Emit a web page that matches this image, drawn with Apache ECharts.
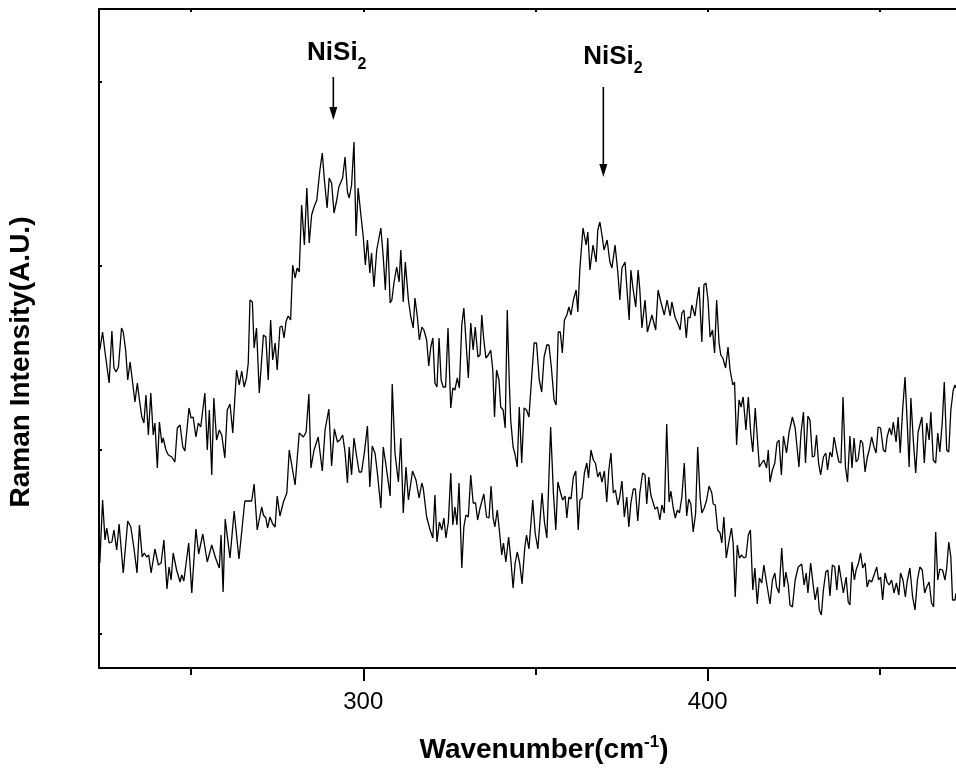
<!DOCTYPE html>
<html>
<head>
<meta charset="utf-8">
<script src="https://cdn.jsdelivr.net/npm/echarts@6/dist/echarts.min.js"></script>
<style>
  html, body { margin: 0; padding: 0; background: #fff; }
  #chart { width: 956px; height: 769px; }
</style>
</head>
<body>
<div id="chart"></div>
<script>
// Raman spectra: [wavenumber (cm^-1), intensity (a.u.)]
const upperSpectrum = [
  [223.5,318],[224.3,336],[225.0,316],[225.5,315],[226.2,285],[227.0,337],[227.6,300],[228.2,296],[228.9,301],[229.8,340],
  [230.3,336],[231.0,318],[231.6,288],[232.3,306],[233.0,286],[233.7,266],[234.4,285],[235.0,268],[235.7,251],[236.3,245],
  [236.9,273],[237.6,233],[238.3,275],[239.0,233],[239.5,245],[240.2,200],[240.8,246],[241.5,225],[241.9,230],[242.7,218],
  [243.4,213],[244.4,211],[245.3,206],[246.0,240],[246.8,243],[247.6,221],[248.2,217],[249.4,260],[250.0,250],[250.6,251],
  [251.4,231],[252.1,245],[252.8,241],[254.0,275],[254.7,218],[255.3,258],[256.0,193],[256.6,270],[257.4,228],[258.2,238],
  [258.9,233],[259.8,210],[260.5,258],[261.3,264],[262.1,235],[263.2,298],[264.0,283],[264.7,297],[265.4,281],[266.1,290],
  [266.6,305],[267.1,368],[267.8,366],[268.3,320],[269.0,340],[269.8,275],[271.0,333],[271.7,331],[272.4,288],[273.1,348],
  [273.7,308],[274.4,325],[275.0,298],[275.8,341],[276.4,342],[277.0,330],[277.6,347],[278.2,352],[278.9,348],[279.5,403],
  [280.2,390],[280.8,400],[281.4,396],[282.1,463],[282.9,423],[283.6,480],[284.3,425],[285.0,453],[285.7,461],[286.5,468],
  [287.4,498],[288.1,515],[288.7,488],[289.5,460],[290.1,490],[290.8,485],[291.5,455],[292.3,468],[292.9,481],[294.0,490],
  [294.7,511],[295.4,476],[295.9,470],[296.6,483],[297.3,526],[297.9,432],[298.5,480],[299.3,453],[300.0,431],[300.6,403],
  [301.2,428],[301.9,395],[302.4,415],[303.1,381],[303.9,418],[305.1,440],[305.8,411],[306.4,378],[307.1,430],[307.8,365],
  [308.3,368],[308.9,385],[309.7,401],[310.4,386],[310.9,418],[311.6,366],[312.2,406],[313.1,368],[313.8,351],[314.5,340],
  [315.0,370],[315.7,351],[316.3,328],[317.0,341],[317.6,338],[318.4,328],[319.0,302],[319.6,321],[320.2,330],[320.8,285],
  [321.4,281],[322.0,330],[322.6,288],[323.2,281],[323.9,281],[324.6,340],[325.4,260],[326.0,280],[326.6,278],[327.3,290],
  [327.9,280],[328.6,343],[329.2,360],[329.8,328],[330.5,290],[331.2,345],[331.9,318],[332.5,341],[333.3,311],[333.9,313],
  [334.4,353],[335.0,328],[335.6,310],[336.3,313],[337.0,318],[337.6,298],[338.1,251],[338.7,298],[339.4,288],[339.9,261],
  [340.6,258],[341.2,240],[341.8,358],[342.4,285],[342.8,248],[343.5,221],[344.1,213],[344.7,201],[345.3,261],[346.0,205],
  [346.7,260],[347.4,258],[348.1,251],[349.0,296],[349.6,325],[350.3,325],[351.1,288],[351.8,276],[352.5,311],[353.3,323],
  [353.9,323],[354.6,301],[355.4,268],[356.0,263],[356.6,336],[357.2,336],[357.8,315],[358.4,348],[359.1,353],[359.7,361],
  [360.3,353],[361.0,368],[361.8,378],[362.3,356],[362.9,400],[363.8,440],[364.7,423],[365.2,436],[365.8,398],[366.7,423],
  [367.6,406],[368.1,438],[368.7,446],[369.3,433],[369.9,418],[370.8,428],[371.6,406],[372.2,400],[373.1,423],[373.9,396],
  [374.5,368],[375.1,400],[376.0,406],[377.2,348],[377.7,398],[378.3,380],[379.1,361],[379.8,398],[380.3,378],[380.9,340],
  [381.8,368],[382.5,336],[383.0,335],[383.8,353],[384.9,338],[385.6,378],[386.4,366],[387.4,353],[388.2,368],[389.1,352],
  [389.6,366],[390.5,351],[391.5,343],[392.0,338],[392.5,355],[393.1,358],[393.8,330],[394.3,351],[394.9,350],[395.4,363],
  [396.3,352],[396.9,368],[397.5,381],[398.3,326],[398.9,383],[399.5,385],[400.1,368],[400.7,331],[401.4,338],[402.0,315],
  [402.6,368],[403.3,325],[403.8,313],[404.4,310],[405.2,300],[405.9,321],[406.5,298],[407.3,283],[407.8,286],[408.4,223],
  [409.1,268],[409.7,261],[410.3,271],[411.1,238],[411.8,271],[412.5,235],[413.1,216],[413.8,260],[414.4,231],[415.0,201],
  [415.7,205],[416.3,208],[417.1,200],[417.6,218],[418.1,186],[418.8,198],[419.5,205],[420.1,225],[420.7,228],[421.4,193],
  [422.0,232],[422.9,215],[423.6,235],[424.6,251],[425.4,240],[425.9,240],[426.5,201],[427.1,235],[427.8,256],[428.4,205],
  [429.1,252],[429.7,248],[430.4,211],[431.0,212],[431.6,233],[432.2,205],[432.8,193],[433.6,211],[434.3,215],[434.8,198],
  [435.5,216],[436.1,211],[436.7,231],[437.5,216],[438.1,206],[438.7,205],[439.3,271],[440.0,201],[440.6,186],[441.3,232],
  [441.9,200],[442.5,230],[443.1,206],[443.7,209],[444.4,228],[445.0,225],[445.7,196],[446.3,210],[446.9,218],[447.6,231],
  [448.3,221],[448.9,215],[449.5,241],[450.2,240],[451.0,218],[451.6,216],[452.1,231],[452.8,240],[453.4,233],[453.9,246],
  [454.7,226],[455.3,251],[455.9,215],[456.6,258],[457.3,291],[457.9,248],[458.5,201],[459.0,270],[459.7,228],[460.4,195],
  [461.1,236],[461.6,235],[462.2,251],[462.9,205],[463.6,245],[464.3,228],[464.8,256],[465.5,208],[466.2,205],[466.8,235],
  [467.4,216],[468.1,245],[468.7,286],[469.4,218],[470.0,216],[470.6,258],[471.3,278],[471.8,283],[472.1,280]
];

const lowerSpectrum = [
  [223.5,105],[224.3,168],[225.0,128],[225.5,140],[226.2,125],[227.0,126],[227.6,138],[228.4,118],[229.1,144],[230.3,95],
  [231.6,147],[232.5,141],[233.4,120],[234.3,95],[235.0,143],[235.8,111],[236.4,115],[237.1,111],[237.7,113],[238.4,95],
  [239.5,119],[240.5,103],[241.3,105],[242.1,128],[243.0,79],[243.6,101],[244.2,88],[244.8,115],[245.8,98],[246.8,86],
  [247.3,93],[247.9,87],[249.3,125],[250.2,75],[251.4,139],[252.2,114],[252.6,114],[253.4,134],[254.7,106],[256.0,123],
  [257.1,110],[258.2,100],[258.7,133],[259.3,76],[259.9,149],[261.3,110],[262.5,157],[263.9,109],[265.6,167],[267.6,167],
  [268.3,184],[269.2,138],[270.5,161],[271.0,153],[271.7,150],[272.2,140],[272.9,151],[273.7,144],[274.4,141],[275.0,172],
  [275.8,152],[276.8,166],[277.8,175],[278.5,218],[279.0,217],[280.2,183],[281.4,235],[282.6,231],[283.4,236],[284.2,274],
  [284.8,200],[285.7,218],[286.9,231],[287.4,230],[288.1,197],[288.9,238],[289.4,237],[290.0,259],[290.8,202],[291.6,239],
  [292.5,226],[293.2,228],[294.0,233],[294.7,216],[295.4,185],[295.9,221],[296.6,193],[297.3,230],[298.1,211],[298.8,196],
  [299.5,196],[300.3,215],[301.2,242],[301.9,181],[302.6,222],[303.4,215],[304.1,195],[305.1,160],[305.8,221],[306.5,205],
  [307.0,205],[307.8,172],[308.4,284],[309.2,215],[310.2,186],[310.9,230],[311.6,155],[312.4,201],[313.1,168],[314.3,197],
  [315.3,188],[316.2,170],[317.0,185],[317.4,180],[318.4,151],[319.4,138],[320.2,130],[320.8,173],[321.4,126],[322.1,146],
  [322.8,138],[323.4,150],[324.0,130],[324.7,146],[325.4,195],[326.0,143],[326.6,161],[327.2,143],[327.8,185],[328.6,100],
  [329.2,141],[329.8,153],[330.5,151],[331.2,193],[331.9,165],[332.6,165],[333.2,148],[333.9,160],[335.0,174],[335.8,151],
  [336.5,150],[337.1,182],[337.7,150],[338.2,141],[338.9,158],[339.5,138],[340.2,113],[340.7,125],[341.4,106],[342.2,131],
  [342.8,110],[343.5,80],[344.1,105],[344.7,116],[345.4,105],[346.1,84],[346.9,121],[347.4,133],[348.1,119],[349.2,168],
  [349.9,135],[350.7,119],[351.9,175],[352.6,146],[353.3,130],[354.4,241],[355.2,175],[355.9,138],[356.5,186],[357.3,175],
  [357.9,168],[358.6,172],[359.1,150],[359.7,171],[360.3,169],[361.0,191],[361.7,197],[362.4,138],[362.9,168],[363.5,170],
  [364.2,195],[364.9,205],[365.4,190],[366.1,218],[366.8,208],[367.4,205],[368.1,191],[368.7,196],[369.3,186],[370.0,197],
  [370.7,166],[371.3,198],[371.9,215],[372.6,175],[373.2,178],[373.9,163],[374.4,170],[375.1,187],[375.8,151],[376.5,171],
  [377.1,141],[377.7,165],[378.4,179],[379.0,179],[379.7,147],[380.3,175],[381.1,195],[381.8,193],[382.3,164],[382.9,191],
  [383.5,173],[384.0,172],[384.7,159],[385.4,161],[386.1,148],[386.7,163],[387.4,155],[388.1,244],[388.8,166],[389.3,177],
  [390.0,160],[390.6,150],[391.2,158],[391.8,155],[392.5,171],[393.2,205],[393.9,152],[394.5,169],[395.1,164],[395.8,136],
  [396.5,155],[397.1,221],[397.8,171],[398.3,155],[399.0,160],[399.7,168],[400.4,182],[401.2,175],[401.6,164],[402.2,163],
  [402.9,138],[403.6,135],[404.1,125],[404.7,151],[405.4,110],[406.1,125],[406.9,140],[407.4,125],[408.0,71],[408.6,123],
  [409.2,110],[409.9,113],[410.5,110],[411.1,111],[411.8,133],[412.4,138],[413.1,78],[413.7,100],[414.4,64],[415.0,90],
  [415.7,85],[416.3,103],[417.1,85],[418.1,64],[418.8,88],[419.5,95],[420.0,81],[420.7,75],[421.5,120],[422.2,81],
  [422.7,96],[423.4,83],[423.9,63],[424.6,61],[425.4,88],[426.3,101],[427.3,104],[428.0,83],[428.6,95],[429.1,75],
  [429.9,105],[430.7,81],[431.2,68],[431.9,81],[432.4,58],[433.0,53],[433.6,78],[434.3,96],[434.9,98],[435.5,72],
  [436.2,103],[436.9,101],[437.5,78],[438.1,103],[438.8,88],[439.4,75],[440.2,91],[440.8,66],[441.3,63],[441.9,106],
  [442.6,88],[443.1,98],[443.8,105],[444.4,115],[445.0,100],[445.7,105],[446.3,81],[446.9,88],[447.6,86],[448.3,93],
  [449.1,101],[449.6,88],[450.2,91],[450.8,68],[451.5,95],[452.1,86],[452.7,83],[453.4,88],[454.1,75],[454.8,85],
  [455.5,73],[456.0,95],[456.7,88],[457.4,71],[457.9,86],[458.7,100],[459.5,71],[460.2,58],[460.9,88],[461.6,101],
  [462.3,98],[463.0,75],[463.6,81],[464.3,86],[465.0,65],[465.6,61],[466.2,136],[466.8,88],[467.4,99],[468.2,98],
  [468.9,88],[469.4,100],[470.0,126],[470.6,111],[471.1,68],[471.8,68],[472.1,75]
];

// Axis ticks and labels
const majorWaveTicks = [300, 400];
const minorWaveTicks = [250, 350, 450];
const intensityTicks = [34, 218, 402, 586];

// Assigned NiSi2 phonon peaks (cm^-1)
const peakWavenumbers = [291.3, 369.7];
const peakName = 'NiSi';
const peakSub = '2';

const FONT = '"Liberation Sans", Arial, Helvetica, sans-serif';
const WAVE_MIN = 223.26, WAVE_MAX = 472.1;
const INT_MIN = 0, INT_MAX = 659;
const black = '#000';

// Arrow and label placement for each annotated peak (in intensity units)
const peakLayout = [
  { arrowTop: 591, arrowTip: 548, labelShift: 1.0, labelAt: 615 },
  { arrowTop: 581, arrowTip: 491, labelShift: 2.8, labelAt: 611 }
];

const chart = echarts.init(document.getElementById('chart'), null, { renderer: 'canvas', width: 956, height: 769 });

const labelRich = {
  a: { fontFamily: FONT, fontWeight: 'bold', fontSize: 26, fill: black, color: black, lineHeight: 40 },
  b: { fontFamily: FONT, fontWeight: 'bold', fontSize: 16, fill: black, color: black, lineHeight: 16, verticalAlign: 'bottom' }
};

function renderPeakMark(params, api) {
  const w = api.value(0);
  const lay = peakLayout[api.value(1)];
  const top = api.coord([w, lay.arrowTop]);
  const tip = api.coord([w, lay.arrowTip]);
  const txt = api.coord([w + lay.labelShift, lay.labelAt]);
  const headLen = 13, headHalf = 4;
  return {
    type: 'group',
    children: [
      { type: 'line', shape: { x1: top[0], y1: top[1], x2: tip[0], y2: tip[1] - headLen + 1 },
        style: { stroke: black, lineWidth: 1.6 } },
      { type: 'polygon', shape: { points: [[tip[0] - headHalf, tip[1] - headLen], [tip[0] + headHalf, tip[1] - headLen], [tip[0], tip[1]]] },
        style: { fill: black } },
      { type: 'text', x: txt[0], y: txt[1],
        style: { text: '{a|' + peakName + '}{b|' + peakSub + '}', rich: labelRich, align: 'center', verticalAlign: 'middle' } }
    ]
  };
}

const option = {
  animation: false,
  backgroundColor: '#fff',
  grid: { left: 99, top: 9, right: 0, bottom: 101, containLabel: false },
  xAxis: [
    {
      type: 'value', position: 'bottom', min: WAVE_MIN, max: WAVE_MAX,
      axisLine: { show: true, onZero: false, lineStyle: { color: black, width: 2 } },
      axisTick: { show: true, customValues: majorWaveTicks, length: 13, lineStyle: { color: black, width: 2 } },
      axisLabel: { show: true, customValues: majorWaveTicks, margin: 22, fontSize: 24, color: black, fontFamily: FONT },
      splitLine: { show: false }
    },
    {
      type: 'value', position: 'bottom', min: WAVE_MIN, max: WAVE_MAX,
      axisLine: { show: false, onZero: false },
      axisTick: { show: true, customValues: minorWaveTicks, length: 7, lineStyle: { color: black, width: 2 } },
      axisLabel: { show: false },
      splitLine: { show: false }
    },
    {
      type: 'value', position: 'top', min: WAVE_MIN, max: WAVE_MAX,
      axisLine: { show: true, onZero: false, lineStyle: { color: black, width: 2 } },
      axisTick: { show: true, customValues: minorWaveTicks.concat(majorWaveTicks), inside: true, length: 3, lineStyle: { color: black, width: 2 } },
      axisLabel: { show: false },
      splitLine: { show: false }
    }
  ],
  yAxis: [
    {
      type: 'value', min: INT_MIN, max: INT_MAX,
      axisLine: { show: true, onZero: false, lineStyle: { color: black, width: 2 } },
      axisTick: { show: true, customValues: intensityTicks, inside: true, length: 3, lineStyle: { color: black, width: 2 } },
      axisLabel: { show: false },
      splitLine: { show: false }
    }
  ],
  graphic: [
    {
      type: 'text', x: 544, y: 750, silent: true,
      style: {
        text: '{a|Wavenumber(cm}{s|-1}{a|)}',
        align: 'center', verticalAlign: 'middle',
        rich: {
          a: { fontFamily: FONT, fontWeight: 'bold', fontSize: 28, fill: black, lineHeight: 32 },
          s: { fontFamily: FONT, fontWeight: 'bold', fontSize: 17, fill: black, lineHeight: 18, verticalAlign: 'top' }
        }
      }
    },
    {
      type: 'text', x: 21.5, y: 362, rotation: Math.PI / 2, silent: true,
      style: {
        text: 'Raman Intensity(A.U.)',
        font: 'bold 28px ' + FONT, fill: black,
        align: 'center', verticalAlign: 'middle'
      }
    }
  ],
  series: [
    {
      name: 'upper', type: 'line', xAxisIndex: 0, yAxisIndex: 0,
      data: upperSpectrum, symbol: 'none', showSymbol: false, clip: true,
      lineStyle: { color: black, width: 1.3 }
    },
    {
      name: 'lower', type: 'line', xAxisIndex: 0, yAxisIndex: 0,
      data: lowerSpectrum, symbol: 'none', showSymbol: false, clip: true,
      lineStyle: { color: black, width: 1.3 }
    },
    {
      name: 'peaks', type: 'custom', xAxisIndex: 0, yAxisIndex: 0, silent: true, clip: false,
      data: peakWavenumbers.map(function (w, i) { return [w, i]; }),
      renderItem: renderPeakMark
    }
  ]
};

chart.setOption(option);
</script>
</body>
</html>
